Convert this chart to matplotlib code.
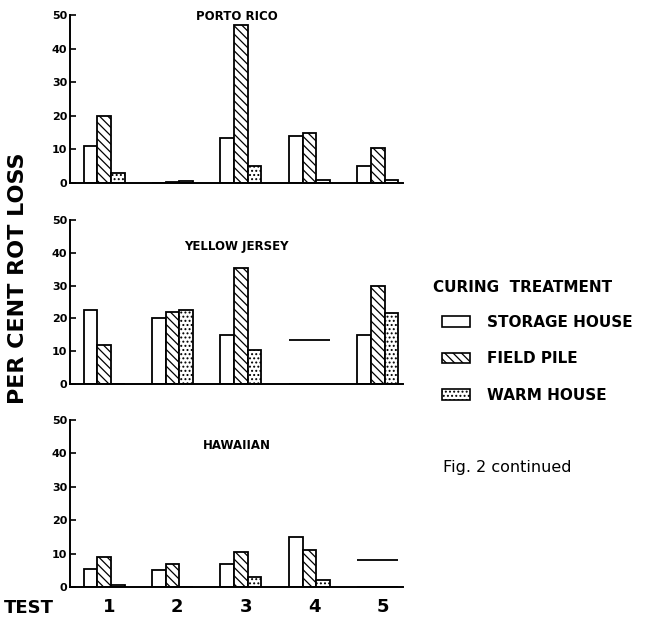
import matplotlib.pyplot as plt
import numpy as np
from matplotlib.patches import Patch

tests = ["1", "2", "3", "4", "5"]
varieties = ["PORTO RICO", "YELLOW JERSEY", "HAWAIIAN"]
treatments = ["STORAGE HOUSE", "FIELD PILE", "WARM HOUSE"]

# per cent rot loss, one list per treatment, tests 1-5
porto_rico = [
    [11, 0, 13.5, 14, 5],      # storage house
    [20, 0.4, 47, 15, 10.5],   # field pile
    [3, 0.5, 5, 0.8, 1],       # warm house
]
yellow_jersey = [
    [22.5, 20, 15, 0, 15],
    [12, 22, 35.5, 0, 30],
    [0, 22.5, 10.5, 0, 21.5],
]
hawaiian = [
    [5.5, 5, 7, 15, 0],
    [9, 7, 10.5, 11, 0],
    [0.5, 0, 3, 2, 0],
]
# single value drawn as a plain line: (test index, value)
line_marks = [None, (4, 13.5), (5, 8)]

data = [porto_rico, yellow_jersey, hawaiian]
hatches = ["", "\\\\\\\\", "...."]

plt.rcParams['hatch.linewidth'] = 0.9

fig = plt.figure(figsize=(6.68, 6.32), dpi=100)

# axes boxes in figure fraction: left, bottom, width, height
boxes = [
    [0.105, 0.7104, 0.498, 0.2656],
    [0.105, 0.3924, 0.498, 0.2596],
    [0.105, 0.0712, 0.498, 0.2642],
]
title_y = [0.99, 0.84, 0.85]

x = np.arange(1, 6)
w = 0.2
for i in range(3):
    ax = fig.add_axes(boxes[i])
    for j in range(3):
        ax.bar(x + (j - 1) * w, data[i][j], width=w, color="white",
               edgecolor="black", linewidth=1.3, hatch=hatches[j])
    if line_marks[i] is not None:
        t, v = line_marks[i]
        ax.hlines(v, t - 0.3, t + 0.3, color="black", linewidth=1.3)
    ax.set_xlim(0.504, 5.365)
    ax.set_ylim(0, 50)
    ax.set_yticks([0, 10, 20, 30, 40, 50])
    ax.tick_params(axis="y", direction="in", length=4, width=1.2,
                   labelsize=8, pad=2)
    for lab in ax.get_yticklabels():
        lab.set_fontweight("bold")
    for s in ["top", "right"]:
        ax.spines[s].set_visible(False)
    ax.spines["left"].set_linewidth(1.4)
    ax.spines["bottom"].set_linewidth(1.4)
    ax.text(0.5, title_y[i], varieties[i], transform=ax.transAxes,
            ha="center", va="center", fontsize=8.5, fontweight="bold")
    if i < 2:
        ax.set_xticks([])
    else:
        ax.set_xticks(x + 0.07)
        ax.set_xticklabels(tests, fontsize=13, fontweight="bold")
        ax.tick_params(axis="x", length=0, pad=8)

fig.text(0.006, 0.038, "TEST", fontsize=13, fontweight="bold",
         ha="left", va="center")
fig.text(0.027, 0.56, "PER CENT ROT LOSS", rotation=90, fontsize=16,
         fontweight="bold", ha="center", va="center")

fig.text(0.648, 0.545, "CURING  TREATMENT", fontsize=11, fontweight="bold",
         ha="left", va="center")
handles = [Patch(facecolor="white", edgecolor="black", linewidth=1.2,
                 hatch=hatches[j]) for j in range(3)]
fig.legend(handles, treatments, loc="upper left",
           bbox_to_anchor=(0.661, 0.502), frameon=False,
           handlelength=1.85, handleheight=0.7, handletextpad=1.1,
           labelspacing=1.42, borderpad=0, borderaxespad=0,
           prop={"weight": "bold", "size": 11})
fig.text(0.663, 0.261, "Fig. 2 continued", fontsize=11.5,
         ha="left", va="center")

fig.savefig("out.png", dpi=100)
